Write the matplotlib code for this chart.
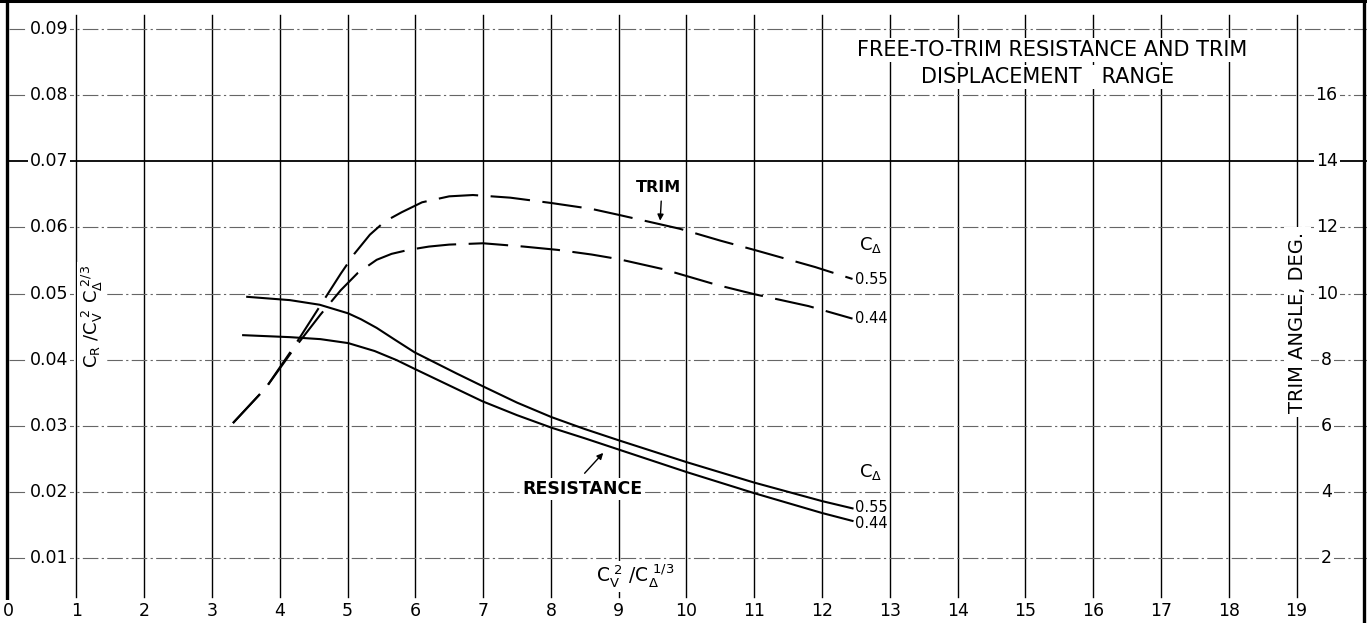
import matplotlib
matplotlib.use("Agg")
import matplotlib.pyplot as plt
import numpy as np

# speed coefficient Cv^2 / C_delta^(1/3)
trim_055_x = [3.31, 3.8, 4.2, 4.6, 4.9, 5.1, 5.33, 5.55, 5.8, 6.1, 6.5, 6.85, 7.4, 8.0, 8.6, 9.0, 9.9, 10.5, 11.0, 11.9, 12.45]
trim_055_y = [0.0304, 0.0358, 0.0418, 0.0482, 0.0530, 0.0560, 0.0589, 0.0609, 0.0623, 0.0638, 0.0647, 0.0649, 0.0645, 0.0637, 0.0628, 0.0619, 0.0598, 0.0580, 0.0566, 0.0540, 0.0522]

trim_044_x = [3.31, 3.8, 4.2, 4.6, 4.9, 5.15, 5.43, 5.65, 5.9, 6.2, 6.5, 7.0, 7.6, 8.1, 8.6, 9.0, 9.65, 10.45, 11.0, 11.8, 12.45]
trim_044_y = [0.0304, 0.0358, 0.0415, 0.0468, 0.0505, 0.0531, 0.0551, 0.0560, 0.0566, 0.0571, 0.0574, 0.0576, 0.0571, 0.0566, 0.0559, 0.0552, 0.0537, 0.0513, 0.0499, 0.0481, 0.0462]

res_055_x = [3.52, 4.15, 4.59, 5.01, 5.2, 5.43, 5.7, 5.99, 6.3, 6.61, 6.99, 7.5, 8.01, 8.5, 9.0, 10.0, 11.0, 12.0, 12.45]
res_055_y = [0.0495, 0.0490, 0.0483, 0.0470, 0.0461, 0.0448, 0.0430, 0.0411, 0.0395, 0.0379, 0.0360, 0.0335, 0.0313, 0.0295, 0.0278, 0.0245, 0.0214, 0.0186, 0.0175]

res_044_x = [3.46, 4.15, 4.6, 5.01, 5.4, 5.73, 5.99, 6.5, 6.99, 7.5, 8.01, 8.5, 9.0, 10.0, 11.0, 12.0, 12.45]
res_044_y = [0.0437, 0.0434, 0.0431, 0.0425, 0.0413, 0.0399, 0.0386, 0.0361, 0.0337, 0.0316, 0.0297, 0.0281, 0.0264, 0.0230, 0.0198, 0.0168, 0.0156]

x_ticks = list(range(0, 20))
cr_ticks = [0.01, 0.02, 0.03, 0.04, 0.05, 0.06, 0.07, 0.08, 0.09]
trim_ticks = [2, 4, 6, 8, 10, 12, 14, 16]

plt.rcParams['font.family'] = 'DejaVu Sans'
plt.rcParams['mathtext.fontset'] = 'dejavusans'

fig = plt.figure(figsize=(13.67, 6.23), dpi=100)
ax = fig.add_axes([0, 0, 1, 1])
ax.set_xlim(-0.127, 20.04)
ax.set_ylim(0.00016, 0.0944)
ax.axis('off')

y_top, y_bot = 0.0921, 0.0041

# vertical grid lines
for x in x_ticks[1:]:
    ax.plot([x, x], [y_bot, y_top], color='black', lw=1.0, zorder=1)

# horizontal grid lines
for v in cr_ticks:
    if v == 0.07:
        ax.plot([0, 20.04], [v, v], color='black', lw=1.3, zorder=1)
    else:
        ax.plot([0, 20.04], [v, v], color='0.4', lw=0.8,
                linestyle=(0, (14, 3, 2, 3)), zorder=1)

# frame border
ax.plot([-0.02, -0.02], [0.00016, 0.0944], color='black', lw=2.4, clip_on=False)
ax.plot([20.0, 20.0], [0.00016, 0.0944], color='black', lw=2.4, clip_on=False)
ax.plot([-0.127, 20.04], [0.0942, 0.0942], color='black', lw=2.2, clip_on=False)

box = dict(facecolor='white', edgecolor='none', pad=1.5)

# tick labels
for x in x_ticks:
    ax.text(x, 0.0019, str(x), ha='center', va='center', fontsize=12.5, bbox=box, zorder=3)
for v in cr_ticks:
    ax.text(0.596, v, '%.2f' % v, ha='center', va='center', fontsize=12.5, bbox=box, zorder=3)
for t in trim_ticks:
    ax.text(19.445, t / 200.0, str(t), ha='center', va='center', fontsize=12.5, bbox=box, zorder=3)

# curves
dash = (0, (19, 6))
ax.plot(trim_055_x, trim_055_y, color='black', lw=1.5, linestyle=dash, zorder=2)
ax.plot(trim_044_x, trim_044_y, color='black', lw=1.5, linestyle=dash, zorder=2)
ax.plot(res_055_x, res_055_y, color='black', lw=1.5, zorder=2)
ax.plot(res_044_x, res_044_y, color='black', lw=1.5, zorder=2)

# curve labels
ax.text(12.72, 0.0573, r'$\mathrm{C_\Delta}$', ha='center', va='center', fontsize=13, zorder=3)
ax.text(12.49, 0.0521, '0.55', ha='left', va='center', fontsize=10.5, zorder=3)
ax.text(12.49, 0.0462, '0.44', ha='left', va='center', fontsize=10.5, zorder=3)
ax.text(12.72, 0.0230, r'$\mathrm{C_\Delta}$', ha='center', va='center', fontsize=13, zorder=3)
ax.text(12.49, 0.0176, '0.55', ha='left', va='center', fontsize=10.5, zorder=3)
ax.text(12.49, 0.0152, '0.44', ha='left', va='center', fontsize=10.5, zorder=3)

ax.text(9.59, 0.0660, 'TRIM', ha='center', va='center', fontsize=11.5, fontweight='bold', bbox=box, zorder=3)
ax.annotate('', xy=(9.61, 0.0606), xytext=(9.63, 0.0644),
            arrowprops=dict(arrowstyle='-|>', color='black', lw=1.0, mutation_scale=9), zorder=3)

ax.text(8.47, 0.0204, 'RESISTANCE', ha='center', va='center', fontsize=12.5, fontweight='bold', bbox=box, zorder=3)
ax.annotate('', xy=(8.80, 0.0262), xytext=(8.47, 0.0225),
            arrowprops=dict(arrowstyle='-|>', color='black', lw=1.0, mutation_scale=9), zorder=3)

# axis titles
ax.text(9.24, 0.0072, r'$\mathrm{C_V^{\ 2}\ /C_\Delta^{\ 1/3}}$', ha='center', va='center',
        fontsize=13.5, bbox=box, zorder=3)
ax.text(1.23, 0.0466, r'$\mathrm{C_R\ /C_V^{\ 2}\ C_\Delta^{\ 2/3}}$', ha='center', va='center',
        rotation=90, fontsize=13, bbox=box, zorder=3)
ax.text(19.02, 0.0457, 'TRIM ANGLE, DEG.', ha='center', va='center', rotation=90,
        fontsize=14, bbox=dict(facecolor='white', edgecolor='none', pad=3), zorder=3)

ax.text(15.40, 0.0868, 'FREE-TO-TRIM RESISTANCE AND TRIM', ha='center', va='center',
        fontsize=15, bbox=box, zorder=3)
ax.text(15.33, 0.0827, 'DISPLACEMENT   RANGE', ha='center', va='center',
        fontsize=15, bbox=box, zorder=3)

fig.savefig('out.png', dpi=100)
